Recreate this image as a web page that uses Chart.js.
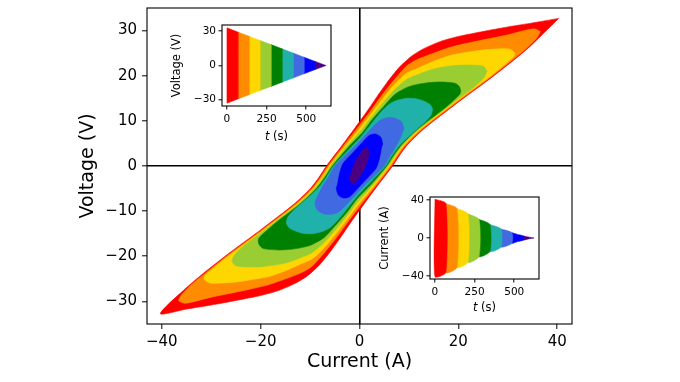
<!DOCTYPE html>
<html>
<head>
<meta charset="utf-8">
<script src="https://cdn.jsdelivr.net/npm/chart.js@4.4.1/dist/chart.umd.min.js"></script>
<style>
  html, body { margin: 0; padding: 0; background: #fff; }
  #wrap { position: relative; width: 680px; height: 382px; }
  #wrap canvas { position: absolute; }
</style>
</head>
<body>
<div id="wrap">
  <canvas id="main-chart" width="680" height="382" style="left:0;top:0"></canvas>
  <canvas id="volt-chart" width="195" height="140" style="left:150px;top:12px"></canvas>
  <canvas id="curr-chart" width="195" height="140" style="left:360px;top:185px"></canvas>
</div>
<script>
const FONT = '"DejaVu Sans", sans-serif';

// One colour per cycle, outermost loop first
const bandColors = ['#ff0000', '#ff8c00', '#ffd700', '#9acd32', '#008000', '#20b2aa', '#4169e1', '#0000ff', '#4b0082'];

// Main plot: outline of each hysteresis loop, [current (A), voltage (V)]
const loopRed = [
  [40.3, 32.7], [35, 31.7], [30, 30.8], [25, 29.8], [20, 28.7], [16.4, 27.6], [13, 26], [10.5, 24.3], [8, 21.8], [5.5, 18.4], [3.5, 15.3], [1.7, 12.4], [-1, 8.3], [-3.5, 4.6], [-6.7, 0],
  [-8.2, -2.5], [-9.8, -4.8], [-13, -8.2], [-19.7, -13.9], [-27.2, -20], [-34, -26],
  [-40.3, -32.7], [-35, -31.7], [-30, -30.8], [-25, -29.8], [-20, -28.7], [-16.4, -27.6], [-13, -26], [-10.5, -24.3], [-8, -21.8], [-5.5, -18.4], [-3.5, -15.3], [-1.7, -12.4], [1, -8.3], [3.5, -4.6], [6.7, 0],
  [8.2, 2.5], [9.8, 4.8], [13, 8.2], [19.7, 13.9], [27.2, 20], [34, 26]
];
const loopOrange = [
  [36.6, 29.8], [35.2, 30.4], [29.8, 29.0], [23.1, 27.5], [18.4, 26.3], [15, 25.0], [11.7, 23.6], [9.6, 22.2], [7.2, 19.3], [4.9, 16.2], [2.5, 12.6], [0, 9.0], [-3.3, 4.4], [-6.4, 0],
  [-7.9, -2.5], [-9.5, -4.8], [-12.7, -8.2], [-19.4, -13.9], [-26.9, -20], [-33.7, -26], [-35.9, -28.4],
  [-36.6, -29.8], [-35.2, -30.4], [-29.8, -29.0], [-23.1, -27.5], [-18.4, -26.3], [-15, -25.0], [-11.7, -23.6], [-9.6, -22.2], [-7.2, -19.3], [-4.9, -16.2], [-2.5, -12.6], [0, -9.0], [3.3, -4.4], [6.4, 0],
  [7.9, 2.5], [9.5, 4.8], [12.7, 8.2], [19.4, 13.9], [26.9, 20], [33.7, 26], [35.9, 28.4]
];
const loopYellow = [
  [31.5, 25.0], [30.3, 25.9], [26, 25.8], [23.1, 25.4], [18.4, 24.5], [15, 23.2], [11.7, 21.6], [9.6, 20.6], [7.2, 18.2], [4.9, 15.2], [2.5, 11.8], [0.2, 8.5], [-3.0, 4.3], [-6.1, 0],
  [-7.6, -2.5], [-9.2, -4.8], [-12.4, -8.2], [-19.1, -13.9], [-26.6, -20], [-30.2, -23.2], [-31.2, -24.2],
  [-31.5, -25.0], [-30.3, -25.9], [-26, -25.8], [-23.1, -25.4], [-18.4, -24.5], [-15, -23.2], [-11.7, -21.6], [-9.6, -20.6], [-7.2, -18.2], [-4.9, -15.2], [-2.5, -11.8], [-0.2, -8.5], [3.0, -4.3], [6.1, 0],
  [7.6, 2.5], [9.2, 4.8], [12.4, 8.2], [19.1, 13.9], [26.6, 20], [30.2, 23.2], [31.2, 24.2]
];
const loopYellowGreen = [
  [25.8, 21.0], [25.2, 22.0], [24, 22.3], [19.7, 22.3], [15, 21.5], [11.7, 20.2], [9.6, 19.2], [7.2, 17.0], [4.9, 14.2], [2.5, 11.0], [0.4, 8.0], [-2.7, 4.2], [-5.8, 0],
  [-7.3, -2.5], [-8.9, -4.8], [-12.1, -8.2], [-18.8, -13.9], [-23.5, -17.8], [-25.2, -19.6],
  [-25.8, -21.0], [-25.2, -22.0], [-24, -22.3], [-19.7, -22.3], [-15, -21.5], [-11.7, -20.2], [-9.6, -19.2], [-7.2, -17.0], [-4.9, -14.2], [-2.5, -11.0], [-0.4, -8.0], [2.7, -4.2], [5.8, 0],
  [7.3, 2.5], [8.9, 4.8], [12.1, 8.2], [18.8, 13.9], [23.5, 17.8], [25.2, 19.6]
];
const loopGreen = [
  [20.5, 16.6], [20.2, 17.6], [19.4, 18.3], [16.4, 18.6], [13.5, 18.4], [11, 17.9], [9.6, 17.4], [7.2, 15.9], [4.9, 13.2], [2.5, 10.2], [0.6, 7.4], [-2.4, 4.0], [-5.5, 0],
  [-7.0, -2.5], [-8.6, -4.8], [-11.8, -8.2], [-17.0, -12.6], [-19.3, -14.8], [-20.3, -15.9],
  [-20.5, -16.6], [-20.2, -17.6], [-19.4, -18.3], [-16.4, -18.6], [-13.5, -18.4], [-11, -17.9], [-9.6, -17.4], [-7.2, -15.9], [-4.9, -13.2], [-2.5, -10.2], [-0.6, -7.4], [2.4, -4.0], [5.5, 0],
  [7.0, 2.5], [8.6, 4.8], [11.8, 8.2], [17.0, 12.6], [19.3, 14.8], [20.3, 15.9]
];
const loopTeal = [
  [14.8, 12.6], [14.3, 13.6], [13.2, 14.3], [11.5, 14.9], [9.6, 15.0], [7.5, 14.5], [6, 13.7], [4.4, 12.0], [2.3, 9.2], [0.4, 6.6], [-2.2, 3.6], [-5.25, 0],
  [-6.7, -2.5], [-8.3, -4.8], [-11.0, -7.6], [-13.3, -9.8], [-14.5, -11.3],
  [-14.8, -12.6], [-14.3, -13.6], [-13.2, -14.3], [-11.5, -14.9], [-9.6, -15.0], [-7.5, -14.5], [-6, -13.7], [-4.4, -12.0], [-2.3, -9.2], [-0.4, -6.6], [2.2, -3.6], [5.25, 0],
  [6.7, 2.5], [8.3, 4.8], [11.0, 7.6], [13.3, 9.8], [14.5, 11.3]
];
const loopRoyal = [
  [9.0, 8.3], [8.5, 9.8], [7.2, 10.6], [5.6, 10.7], [4.0, 10.0], [2.0, 7.8], [-0.4, 5.0], [-2.8, 2.4], [-5.0, 0],
  [-6.2, -2.3], [-7.5, -4.6], [-8.4, -6.5],
  [-9.0, -8.3], [-8.5, -9.8], [-7.2, -10.6], [-5.6, -10.7], [-4.0, -10.0], [-2.0, -7.8], [0.4, -5.0], [2.8, -2.4], [5.0, 0],
  [6.2, 2.3], [7.5, 4.6], [8.4, 6.5]
];
const loopBlue = [
  [4.7, 4.8], [4.3, 6.4], [3.2, 7.1], [2.0, 6.8], [0.8, 5.5], [-1.3, 3.0], [-3.3, 0.6], [-4.0, -1.5], [-4.5, -4.3],
  [-4.7, -4.8], [-4.3, -6.4], [-3.2, -7.1], [-2.0, -6.8], [-0.8, -5.5], [1.3, -3.0], [3.3, -0.6], [4.0, 1.5], [4.5, 4.3]
];
const loopIndigo = [
  [2.0, 3.0], [1.6, 3.8], [1.0, 3.9], [0.2, 2.8], [-0.8, 1.0], [-1.3, -0.2], [-1.8, -2.0],
  [-2.0, -3.0], [-1.6, -3.8], [-1.0, -3.9], [-0.2, -2.8], [0.8, -1.0], [1.3, 0.2], [1.8, 2.0]
];
const loops = [loopRed, loopOrange, loopYellow, loopYellowGreen, loopGreen, loopTeal, loopRoyal, loopBlue, loopIndigo];

// Insets: envelope of the decaying signals, cycle boundaries in t (s)
const tBounds = [0, 69, 139, 208, 278, 347, 417, 486, 556, 625];
const voltHigh = [33, 29.3, 25.7, 22, 18.3, 14.7, 11, 7.3, 3.6, 0];
const voltLow = [-33, -29.3, -25.7, -22, -18.3, -14.7, -11, -7.3, -3.6, 0];
const currT = [0, 69, 139, 208, 278, 347, 417, 486, 521, 556, 590, 625];
const currHigh = [40.7, 36.3, 30.9, 25.4, 19.6, 14.2, 9.5, 5.6, 3.8, 2.3, 1.0, 0];
const currLow = [-40.7, -36.3, -30.9, -25.4, -19.6, -14.2, -9.5, -5.6, -3.8, -2.3, -1.0, 0];

// Tick values
const mainTicksX = [-40, -20, 0, 20, 40];
const mainTicksY = [-30, -20, -10, 0, 10, 20, 30];
const insetTicksT = [0, 250, 500];
const voltTicks = [-30, 0, 30];
const currTicks = [-40, 0, 40];

// Closed polygon from a list of pairs
function toPoints(pairs) {
  const pts = pairs.map(p => ({ x: p[0], y: p[1] }));
  pts.push({ x: pairs[0][0], y: pairs[0][1] });
  return pts;
}

// Polygon of one band of an envelope between t0 and t1
function bandShape(t, high, low, t0, t1) {
  const top = [];
  const bottom = [];
  for (let i = 0; i < t.length; i++) {
    if (t[i] >= t0 && t[i] <= t1) {
      top.push({ x: t[i], y: high[i] });
      bottom.unshift({ x: t[i], y: low[i] });
    }
  }
  const pts = top.concat(bottom);
  pts.push(pts[0]);
  return pts;
}

function minusFmt(v) {
  return v < 0 ? '\u2212' + Math.abs(v) : String(v);
}

// Linear axis with fixed ticks and a fixed size
function fixedAxis(cfg) {
  return {
    type: 'linear',
    position: cfg.position,
    min: cfg.min,
    max: cfg.max,
    afterBuildTicks: s => { s.ticks = cfg.ticks.map(v => ({ value: v })); },
    afterFit: s => {
      if (cfg.position === 'left') s.width = cfg.size; else s.height = cfg.size;
      s.paddingLeft = 0; s.paddingRight = 0; s.paddingTop = 0; s.paddingBottom = 0;
    },
    ticks: {
      callback: minusFmt,
      color: '#000',
      padding: cfg.pad,
      autoSkip: false,
      maxRotation: 0,
      font: { family: FONT, size: cfg.fontSize }
    },
    grid: {
      drawOnChartArea: !!cfg.zeroLine,
      color: ctx => (cfg.zeroLine && ctx.tick && ctx.tick.value === 0) ? '#000' : 'rgba(0,0,0,0)',
      lineWidth: 1.6,
      tickColor: '#000',
      tickWidth: 1,
      tickLength: cfg.tickLen
    },
    border: { display: false },
    title: cfg.title
      ? { display: true, text: cfg.title, color: '#000', font: { family: FONT, size: cfg.titleSize }, padding: cfg.titlePad }
      : { display: false }
  };
}

// Frame around the plot area, optional white face
function framePlugin(face) {
  return {
    id: 'frame',
    beforeDraw(chart) {
      if (!face) return;
      const { ctx, chartArea: a } = chart;
      ctx.save();
      ctx.fillStyle = face;
      ctx.fillRect(a.left, a.top, a.right - a.left, a.bottom - a.top);
      ctx.restore();
    },
    afterDatasetsDraw(chart) {
      const { ctx, chartArea: a } = chart;
      ctx.save();
      ctx.strokeStyle = '#000';
      ctx.lineWidth = 1.1;
      ctx.strokeRect(a.left, a.top, a.right - a.left, a.bottom - a.top);
      ctx.restore();
    }
  };
}

// "t (s)" with italic t
function timeTitlePlugin(yPos) {
  return {
    id: 'timeTitle',
    afterDraw(chart) {
      const { ctx, chartArea: a } = chart;
      const it = 'italic 11.5px ' + FONT;
      const up = '11.5px ' + FONT;
      ctx.save();
      ctx.font = it;
      const w1 = ctx.measureText('t').width;
      ctx.font = up;
      const w2 = ctx.measureText(' (s)').width;
      const x = (a.left + a.right) / 2 - (w1 + w2) / 2;
      ctx.textBaseline = 'middle';
      ctx.fillStyle = '#000';
      ctx.font = it;
      ctx.fillText('t', x, yPos);
      ctx.font = up;
      ctx.fillText(' (s)', x + w1, yPos);
      ctx.restore();
    }
  };
}

const baseOptions = {
  responsive: false,
  animation: false,
  devicePixelRatio: 1,
  plugins: { legend: { display: false }, tooltip: { enabled: false } },
  elements: { point: { radius: 0 } }
};

// Main hysteresis plot (outer loops get a higher order so they are drawn first)
new Chart(document.getElementById('main-chart'), {
  type: 'line',
  data: {
    datasets: loops.map((pairs, i) => ({
      data: toPoints(pairs),
      backgroundColor: bandColors[i],
      borderColor: bandColors[i],
      borderWidth: 0.6,
      fill: 'shape',
      tension: 0.25,
      pointRadius: 0,
      order: loops.length - i
    }))
  },
  options: Object.assign({}, baseOptions, {
    layout: { padding: { left: 0, right: 108, top: 8, bottom: 0 } },
    scales: {
      x: fixedAxis({ position: 'bottom', min: -43, max: 43, ticks: mainTicksX, size: 58, pad: 4, fontSize: 15, tickLen: 5, zeroLine: true,
        title: 'Current (A)', titleSize: 19, titlePad: { top: 0, bottom: 8.6 } }),
      y: fixedAxis({ position: 'left', min: -35, max: 35, ticks: mainTicksY, size: 147, pad: 5, fontSize: 15, tickLen: 5, zeroLine: true,
        title: 'Voltage (V)', titleSize: 19, titlePad: { top: 76.6, bottom: 0 } })
    }
  }),
  plugins: [framePlugin(null)]
});

// Inset: voltage against time
new Chart(document.getElementById('volt-chart'), {
  type: 'line',
  data: {
    datasets: bandColors.map((c, k) => ({
      data: bandShape(tBounds, voltHigh, voltLow, tBounds[k], tBounds[k + 1]),
      backgroundColor: c,
      borderColor: c,
      borderWidth: 0.5,
      fill: 'shape',
      tension: 0,
      pointRadius: 0
    }))
  },
  options: Object.assign({}, baseOptions, {
    layout: { padding: { left: 0, right: 14, top: 13, bottom: 0 } },
    scales: {
      x: fixedAxis({ position: 'bottom', min: -31.25, max: 656.25, ticks: insetTicksT, size: 46, pad: 3.5, fontSize: 10.5, tickLen: 3.5 }),
      y: fixedAxis({ position: 'left', min: -35.5, max: 35.5, ticks: voltTicks, size: 72, pad: 2.5, fontSize: 10.5, tickLen: 3.5,
        title: 'Voltage (V)', titleSize: 11.5, titlePad: { top: 20.1, bottom: 0 } })
    }
  }),
  plugins: [framePlugin('#fff'), timeTitlePlugin(125)]
});

// Inset: current against time
new Chart(document.getElementById('curr-chart'), {
  type: 'line',
  data: {
    datasets: bandColors.map((c, k) => ({
      data: bandShape(currT, currHigh, currLow, tBounds[k], tBounds[k + 1]),
      backgroundColor: c,
      borderColor: c,
      borderWidth: 0.5,
      fill: 'shape',
      tension: 0.2,
      pointRadius: 0
    }))
  },
  options: Object.assign({}, baseOptions, {
    layout: { padding: { left: 0, right: 16, top: 12, bottom: 0 } },
    scales: {
      x: fixedAxis({ position: 'bottom', min: -31.25, max: 656.25, ticks: insetTicksT, size: 46, pad: 3.5, fontSize: 10.5, tickLen: 3.5 }),
      y: fixedAxis({ position: 'left', min: -43, max: 43, ticks: currTicks, size: 70, pad: 2.5, fontSize: 10.5, tickLen: 3.5,
        title: 'Current (A)', titleSize: 11.5, titlePad: { top: 18.1, bottom: 0 } })
    }
  }),
  plugins: [framePlugin('#fff'), timeTitlePlugin(123)]
});
</script>
</body>
</html>
